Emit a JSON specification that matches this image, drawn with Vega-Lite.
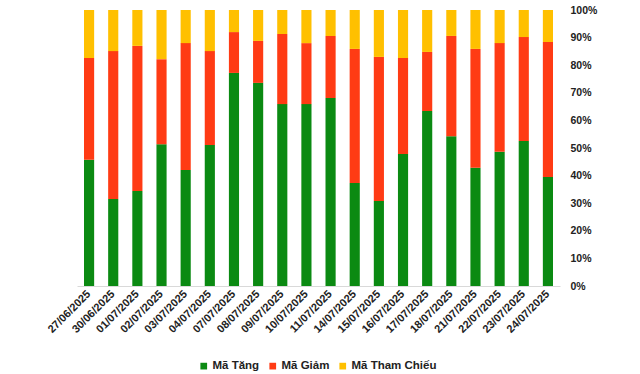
{
  "$schema": "https://vega.github.io/schema/vega-lite/v6.json",
  "width": 483,
  "height": 276,
  "autosize": {"type": "none"},
  "padding": {"left": 77, "top": 10, "right": 80, "bottom": 88},
  "background": "white",
  "config": {
    "view": {"stroke": null},
    "font": "Liberation Sans"
  },
  "datasets": {
    "raw": [
      {"d": "27/06/2025", "tang": 45.7, "giam": 36.9, "tc": 17.4},
      {"d": "30/06/2025", "tang": 31.5, "giam": 53.6, "tc": 14.9},
      {"d": "01/07/2025", "tang": 34.4, "giam": 52.6, "tc": 13.0},
      {"d": "02/07/2025", "tang": 51.4, "giam": 30.8, "tc": 17.8},
      {"d": "03/07/2025", "tang": 42.0, "giam": 46.0, "tc": 12.0},
      {"d": "04/07/2025", "tang": 51.1, "giam": 34.0, "tc": 14.9},
      {"d": "07/07/2025", "tang": 77.2, "giam": 14.8, "tc": 8.0},
      {"d": "08/07/2025", "tang": 73.6, "giam": 15.2, "tc": 11.2},
      {"d": "09/07/2025", "tang": 65.9, "giam": 25.4, "tc": 8.7},
      {"d": "10/07/2025", "tang": 65.9, "giam": 22.1, "tc": 12.0},
      {"d": "11/07/2025", "tang": 68.1, "giam": 22.5, "tc": 9.4},
      {"d": "14/07/2025", "tang": 37.3, "giam": 48.6, "tc": 14.1},
      {"d": "15/07/2025", "tang": 30.8, "giam": 52.2, "tc": 17.0},
      {"d": "16/07/2025", "tang": 47.8, "giam": 34.8, "tc": 17.4},
      {"d": "17/07/2025", "tang": 63.4, "giam": 21.4, "tc": 15.2},
      {"d": "18/07/2025", "tang": 54.3, "giam": 36.3, "tc": 9.4},
      {"d": "21/07/2025", "tang": 42.8, "giam": 43.1, "tc": 14.1},
      {"d": "22/07/2025", "tang": 48.6, "giam": 39.4, "tc": 12.0},
      {"d": "23/07/2025", "tang": 52.5, "giam": 37.7, "tc": 9.8},
      {"d": "24/07/2025", "tang": 39.5, "giam": 48.9, "tc": 11.6}
    ]
  },
  "data": {"name": "raw"},
  "transform": [
    {"fold": ["tang", "giam", "tc"], "as": ["key", "value"]},
    {"lookup": "key", "from": {"data": {"values": [
      {"key": "tang", "series": "Mã Tăng", "ord": 1},
      {"key": "giam", "series": "Mã Giảm", "ord": 2},
      {"key": "tc", "series": "Mã Tham Chiếu", "ord": 3}
    ]}, "key": "key", "fields": ["series", "ord"]}}
  ],
  "mark": {"type": "bar"},
  "encoding": {
    "x": {
      "field": "d", "type": "nominal", "sort": null,
      "scale": {"paddingInner": 0.58, "paddingOuter": 0.29},
      "axis": {
        "title": null, "labelAngle": -45, "labelAlign": "right", "labelBaseline": "middle",
        "labelFont": "Liberation Sans", "labelFontWeight": "bold", "labelFontSize": 11,
        "labelColor": "#222222", "ticks": false, "labelPadding": 6,
        "domainColor": "#d9d9d9", "domainWidth": 1
      }
    },
    "y": {
      "field": "value", "type": "quantitative", "stack": "normalize",
      "scale": {"domain": [0, 1]},
      "axis": {
        "orient": "right", "title": null, "format": ".0%", "values": [0, 0.1, 0.2, 0.3, 0.4, 0.5, 0.6, 0.7, 0.8, 0.9, 1],
        "grid": false, "domain": false, "ticks": false, "labelPadding": 10,
        "labelFont": "Liberation Sans", "labelFontWeight": "bold", "labelFontSize": 10.5,
        "labelColor": "#222222"
      }
    },
    "color": {
      "field": "series", "type": "nominal",
      "scale": {"domain": ["Mã Tăng", "Mã Giảm", "Mã Tham Chiếu"], "range": ["#0B8A12", "#FF3B14", "#FFC000"]},
      "legend": {
        "title": null, "orient": "none", "direction": "horizontal", "legendX": 121, "legendY": 350,
        "symbolType": "square", "symbolSize": 45, "symbolStrokeWidth": 0,
        "labelFont": "Liberation Sans", "labelFontWeight": "bold", "labelFontSize": 11.5,
        "labelColor": "#222222", "columnPadding": 7, "labelOffset": 3
      }
    },
    "order": {"field": "ord", "type": "quantitative"}
  }
}
